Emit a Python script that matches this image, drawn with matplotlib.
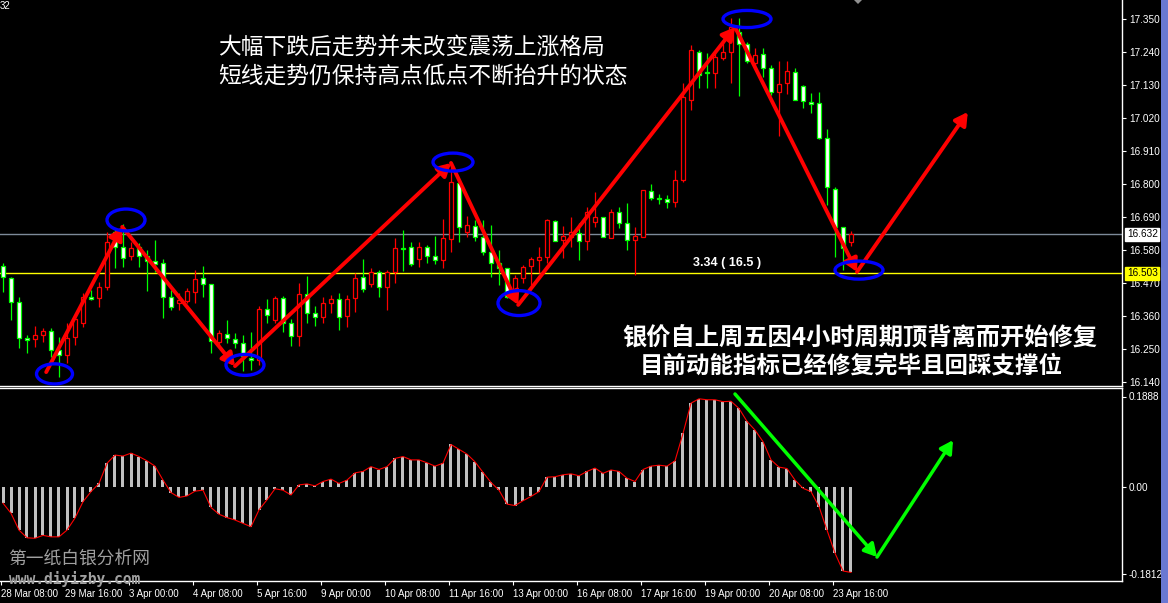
import matplotlib
matplotlib.use("Agg")
import matplotlib.pyplot as plt
from matplotlib.patches import Ellipse, FancyArrowPatch, Rectangle, Polygon
import numpy as np

# ---------------- data ----------------
opens = [16.527, 16.487, 16.407, 16.287, 16.283, 16.297, 16.310, 16.247, 16.230, 16.290,
         16.337, 16.423, 16.420, 16.457, 16.640, 16.590, 16.560, 16.590, 16.560, 16.543,
         16.537, 16.423, 16.403, 16.410, 16.440, 16.487, 16.467, 16.273, 16.300, 16.283,
         16.270, 16.220, 16.213, 16.383, 16.347, 16.420, 16.337, 16.293, 16.433, 16.370,
         16.357, 16.403, 16.417, 16.360, 16.420, 16.490, 16.467, 16.507, 16.457, 16.507,
         16.587, 16.590, 16.550, 16.590, 16.560, 16.547, 16.617, 16.803, 16.640, 16.660,
         16.623, 16.573, 16.537, 16.520, 16.440, 16.487, 16.527, 16.547, 16.557, 16.677,
         16.613, 16.623, 16.637, 16.610, 16.673, 16.690, 16.620, 16.707, 16.670, 16.613,
         16.623, 16.777, 16.753, 16.750, 16.740, 16.813, 17.080, 17.240, 17.173, 17.170,
         17.220, 17.240, 17.307, 17.267, 17.203, 17.233, 17.187, 17.107, 17.137, 17.173,
         17.127, 17.073, 17.070, 16.953, 16.783, 16.657, 16.607]
highs = [16.537, 16.490, 16.423, 16.297, 16.327, 16.320, 16.320, 16.290, 16.337, 16.363,
         16.437, 16.447, 16.473, 16.640, 16.653, 16.667, 16.607, 16.603, 16.580, 16.613,
         16.550, 16.447, 16.437, 16.453, 16.513, 16.527, 16.467, 16.313, 16.347, 16.303,
         16.297, 16.307, 16.393, 16.417, 16.427, 16.427, 16.350, 16.470, 16.493, 16.393,
         16.423, 16.430, 16.437, 16.430, 16.503, 16.550, 16.520, 16.513, 16.513, 16.620,
         16.647, 16.607, 16.607, 16.597, 16.627, 16.683, 16.870, 16.807, 16.693, 16.680,
         16.680, 16.663, 16.580, 16.520, 16.497, 16.530, 16.557, 16.590, 16.683, 16.680,
         16.660, 16.690, 16.670, 16.723, 16.773, 16.690, 16.717, 16.723, 16.737, 16.657,
         16.780, 16.800, 16.767, 16.763, 16.847, 17.137, 17.263, 17.247, 17.237, 17.247,
         17.273, 17.353, 17.353, 17.273, 17.253, 17.253, 17.197, 17.210, 17.210, 17.187,
         17.130, 17.103, 17.107, 16.983, 16.790, 16.657, 16.643]
lows = [16.440, 16.347, 16.253, 16.237, 16.257, 16.273, 16.223, 16.157, 16.203, 16.263,
        16.323, 16.413, 16.390, 16.447, 16.520, 16.523, 16.547, 16.523, 16.443, 16.507,
        16.353, 16.380, 16.380, 16.403, 16.403, 16.423, 16.237, 16.257, 16.270, 16.253,
        16.177, 16.180, 16.197, 16.337, 16.337, 16.307, 16.260, 16.260, 16.337, 16.327,
        16.337, 16.370, 16.313, 16.323, 16.373, 16.440, 16.457, 16.423, 16.380, 16.470,
        16.510, 16.527, 16.523, 16.537, 16.533, 16.520, 16.573, 16.607, 16.623, 16.610,
        16.563, 16.490, 16.463, 16.420, 16.413, 16.470, 16.463, 16.503, 16.537, 16.610,
        16.553, 16.590, 16.547, 16.580, 16.657, 16.623, 16.620, 16.653, 16.580, 16.497,
        16.623, 16.747, 16.733, 16.720, 16.723, 16.807, 17.047, 17.120, 17.120, 17.120,
        17.213, 17.137, 17.093, 17.203, 17.187, 17.157, 17.097, 16.960, 17.100, 17.080,
        17.053, 17.037, 16.950, 16.730, 16.557, 16.513, 16.593]
closes = [16.490, 16.407, 16.287, 16.280, 16.297, 16.310, 16.247, 16.230, 16.287, 16.350,
          16.423, 16.417, 16.457, 16.607, 16.590, 16.553, 16.587, 16.560, 16.543, 16.533,
          16.423, 16.390, 16.413, 16.443, 16.483, 16.467, 16.277, 16.303, 16.287, 16.270,
          16.227, 16.213, 16.383, 16.363, 16.420, 16.337, 16.293, 16.433, 16.370, 16.357,
          16.403, 16.417, 16.357, 16.417, 16.487, 16.450, 16.507, 16.457, 16.507, 16.587,
          16.583, 16.533, 16.590, 16.560, 16.547, 16.620, 16.807, 16.657, 16.663, 16.623,
          16.573, 16.537, 16.520, 16.423, 16.487, 16.523, 16.550, 16.557, 16.680, 16.610,
          16.627, 16.640, 16.610, 16.707, 16.690, 16.623, 16.707, 16.670, 16.613, 16.627,
          16.780, 16.753, 16.750, 16.740, 16.813, 17.090, 17.247, 17.163, 17.170, 17.223,
          17.240, 17.323, 17.267, 17.210, 17.230, 17.187, 17.107, 17.133, 17.177, 17.080,
          17.077, 17.067, 16.953, 16.790, 16.657, 16.587, 16.632]

osc = [-0.033, -0.054, -0.089, -0.105, -0.106, -0.100, -0.103, -0.103, -0.089, -0.064,
       -0.030, -0.009, 0.008, 0.050, 0.067, 0.065, 0.071, 0.064, 0.055, 0.044,
       0.015, -0.011, -0.021, -0.018, -0.008, -0.006, -0.042, -0.056, -0.063, -0.068,
       -0.075, -0.082, -0.047, -0.026, -0.003, -0.006, -0.016, 0.005, 0.007, 0.003,
       0.012, 0.017, 0.008, 0.015, 0.030, 0.033, 0.043, 0.037, 0.043, 0.060,
       0.064, 0.057, 0.057, 0.051, 0.044, 0.050, 0.089, 0.079, 0.069, 0.053,
       0.031, 0.010, -0.006, -0.035, -0.038, -0.028, -0.019, -0.009, 0.021, 0.022,
       0.026, 0.028, 0.024, 0.033, 0.040, 0.029, 0.036, 0.033, 0.019, 0.012,
       0.037, 0.044, 0.046, 0.044, 0.055, 0.112, 0.175, 0.184, 0.182, 0.182,
       0.178, 0.179, 0.164, 0.137, 0.119, 0.095, 0.057, 0.042, 0.039, 0.015,
       -0.002, -0.009, -0.040, -0.089, -0.137, -0.174, -0.177]

time_labels = ["28 Mar 08:00", "29 Mar 16:00", "3 Apr 00:00", "4 Apr 08:00", "5 Apr 16:00",
               "9 Apr 00:00", "10 Apr 08:00", "11 Apr 16:00", "13 Apr 00:00", "16 Apr 08:00",
               "17 Apr 16:00", "19 Apr 00:00", "20 Apr 08:00", "23 Apr 16:00"]
price_ticks = [17.350, 17.240, 17.130, 17.020, 16.910, 16.800, 16.690, 16.580,
               16.470, 16.360, 16.250, 16.140]
osc_ticks = [0.1888, 0.0, -0.1812]
osc_tick_labels = ["0.1888", "0.00", "-0.1812"]
bid_price = 16.632
support_price = 16.503

# swing path (bar index, price) for the red arrows
swing_idx = [5.4, 14.9, 29.0, 56.0, 64.4, 91.5, 106.75, 120.6]
swing_px = [16.173, 16.657, 16.193, 16.870, 16.397, 17.323, 16.507, 17.040]
# circled pivots (bar index, price)
circle_idx = [6.44, 15.375, 30.25, 56.25, 64.5, 93.0, 107.0]
circle_px = [16.167, 16.680, 16.197, 16.873, 16.403, 17.350, 16.513]
# green oscillator arrows (bar index, value)
osc_arrow_idx = [91.5, 109.25, 118.75]
osc_arrow_val = [0.194, -0.145, 0.098]

text_top1 = "大幅下跌后走势并未改变震荡上涨格局"
text_top2 = "短线走势仍保持高点低点不断抬升的状态"
text_bot1 = "银价自上周五因4小时周期顶背离而开始修复"
text_bot2 = "目前动能指标已经修复完毕且回踩支撑位"
fibo_text = "3.34 ( 16.5 )"

# ---------------- figure ----------------
W, H = 1168, 603
fig = plt.figure(figsize=(W / 100, H / 100), dpi=100, facecolor="black")
CJK = ["Noto Sans CJK SC", "DejaVu Sans"]
TICKF = "Liberation Sans"


def fx(px):
    return px / W


def fy(py):
    return 1 - py / H


ax = fig.add_axes([0, fy(386), fx(1122), 386 / H], facecolor="black")
axi = fig.add_axes([0, fy(581), fx(1122), (581 - 388) / H], facecolor="black")

n = len(opens)
idx = np.arange(n)
ax.set_xlim(-0.375, -0.375 + 1122 / 8)
axi.set_xlim(-0.375, -0.375 + 1122 / 8)
ax.set_ylim(17.4133 - 386 / 300, 17.4133)
scale = 0.1888 / 90.8
axi.set_ylim(-(581 - 487.3) * scale, (487.3 - 388) * scale)

o = np.array(opens); c = np.array(closes); h = np.array(highs); l = np.array(lows)
up = c > o
red = "#ff0000"; green = "#00ff00"

# reference lines
ax.axhline(bid_price, color="#7d8a99", lw=1.0, zorder=1)
ax.axhline(support_price, color="#ffff00", lw=1.0, zorder=1)

# wicks
ax.vlines(idx, l, h, colors=np.where(up, red, green), lw=0.9, zorder=2)
# bodies
bottoms = np.minimum(o, c)
heights = np.maximum(np.abs(c - o), 0.0008)
ax.bar(idx, heights, bottom=bottoms, width=0.5,
       facecolor=np.where(up, "black", "white"),
       edgecolor=np.where(up, red, green), linewidth=0.9, zorder=3)

# red swing arrows
for k in range(len(swing_idx) - 1):
    a = FancyArrowPatch((swing_idx[k], swing_px[k]), (swing_idx[k + 1], swing_px[k + 1]),
                        arrowstyle="-|>,head_length=0.5,head_width=0.28", mutation_scale=15,
                        color=red, lw=2.8, shrinkA=0, shrinkB=0, zorder=6)
    ax.add_patch(a)

ell_w = [4.5, 4.75, 4.75, 5.0, 5.25, 6.0, 6.0]
ell_h = [0.067, 0.073, 0.070, 0.060, 0.083, 0.057, 0.060]
for k in range(len(circle_idx)):
    e = Ellipse((circle_idx[k], circle_px[k]), ell_w[k], ell_h[k], facecolor="none",
                edgecolor="#0000ff", lw=2.4, zorder=7)
    ax.add_patch(e)

# axes styling main
for s in ["top", "left"]:
    ax.spines[s].set_visible(False)
for s in ["right", "bottom"]:
    ax.spines[s].set_color("white")
    ax.spines[s].set_linewidth(1.0)
ax.set_xticks([])
ax.yaxis.tick_right()
ax.set_yticks(price_ticks)
ax.set_yticklabels([f"{p:.3f}" for p in price_ticks], fontfamily=TICKF)
ax.tick_params(axis="y", colors="white", labelsize=7.2, length=3, width=0.8, pad=2)

# price boxes
for val, bg in [(bid_price, "white"), (support_price, "#ffff00")]:
    ax.annotate(f"{val:.3f}", xy=(1.0, val), xycoords=("axes fraction", "data"),
                xytext=(3.5, 0), textcoords="offset points", va="center", ha="left",
                fontsize=7.2, color="black", fontfamily=TICKF, annotation_clip=False,
                bbox=dict(boxstyle="square,pad=0.15", fc=bg, ec=bg), zorder=10)

# oscillator
axi.bar(idx, osc, width=0.375, color="#c0c0c0", zorder=2)
axi.plot(idx, osc, color=red, lw=0.8, zorder=3)
pts = list(zip(osc_arrow_idx, osc_arrow_val))
for k in range(len(pts) - 1):
    a = FancyArrowPatch(pts[k], pts[k + 1],
                        arrowstyle="-|>,head_length=0.5,head_width=0.28", mutation_scale=15,
                        color=green, lw=2.5, shrinkA=0, shrinkB=0, zorder=6)
    axi.add_patch(a)
axi.spines["left"].set_visible(False)
for s in ["top", "right", "bottom"]:
    axi.spines[s].set_color("white")
    axi.spines[s].set_linewidth(1.0)
axi.yaxis.tick_right()
axi.set_yticks(osc_ticks)
axi.set_yticklabels(osc_tick_labels, fontfamily=TICKF)
axi.tick_params(axis="y", colors="white", labelsize=7.2, length=3, width=0.8, pad=2)
xt = [8 * k - 0.25 for k in range(len(time_labels))]
axi.set_xticks(xt)
axi.set_xticklabels(time_labels, fontfamily=TICKF)
axi.tick_params(axis="x", colors="white", labelsize=7, length=3, width=0.8, pad=3)
for lab in axi.get_xticklabels():
    lab.set_ha("left")

# texts
fig.text(fx(218), fy(47), text_top1, color="white", fontsize=16.4, family=CJK,
         va="center", ha="left")
fig.text(fx(218), fy(76), text_top2, color="white", fontsize=16.4, family=CJK,
         va="center", ha="left")
fig.text(fx(622), fy(337), text_bot1, color="white", fontsize=17.5, family=CJK,
         weight="bold", va="center", ha="left")
fig.text(fx(640), fy(366), text_bot2, color="white", fontsize=16.9, family=CJK,
         weight="bold", va="center", ha="left")
fig.text(fx(693), fy(263), fibo_text, color="white", fontsize=9, fontfamily=TICKF,
         weight="bold", va="center", ha="left")
fig.text(fx(8), fy(559), "第一纸白银分析网", color="#a0a0a0", fontsize=12.8, family=CJK,
         va="center", ha="left")
fig.text(fx(9), fy(579), "www.diyizby.com", color="#a0a0a0", fontsize=10.5,
         fontfamily="DejaVu Sans Mono", weight="bold", va="center", ha="left", zorder=0)
fig.text(fx(0), fy(1), "32", color="white", fontsize=7, fontfamily=TICKF, va="top", ha="left")

# window border strip & shift marker
fig.patches.append(Rectangle((fx(1161), 0), fx(7), 1, transform=fig.transFigure,
                             facecolor="#6a78d2", edgecolor="none", zorder=0))
fig.patches.append(Polygon([[fx(854), fy(0)], [fx(862), fy(0)], [fx(858), fy(4)]],
                           closed=True, transform=fig.transFigure, facecolor="#909090",
                           edgecolor="none"))

fig.savefig("out.png", dpi=100, facecolor="black")
